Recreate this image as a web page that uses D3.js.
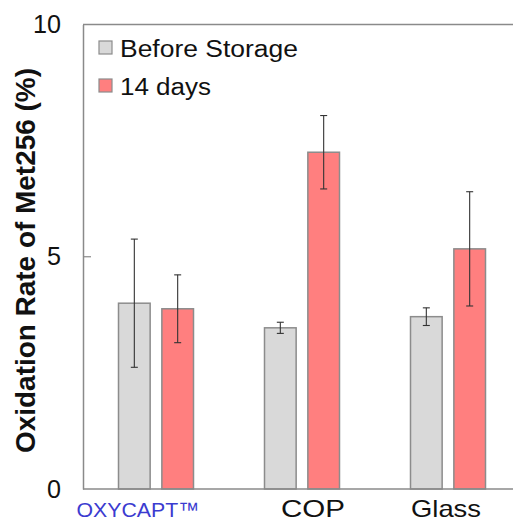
<!DOCTYPE html>
<html>
<head>
<meta charset="utf-8">
<script src="https://cdn.jsdelivr.net/npm/d3@7"></script>
<style>
  html, body { margin: 0; padding: 0; background: #fff; }
  svg { display: block; font-family: "Liberation Sans", Arial, sans-serif; }
</style>
</head>
<body>
<svg id="chart" width="513" height="521"></svg>
<script>
// ---- data ----
const categories = ["OXYCAPT™", "COP", "Glass"];
const seriesNames = ["Before Storage", "14 days"];
const beforeValues = [4.00, 3.47, 3.71];
const beforeErrors = [1.38, 0.12, 0.19];
const daysValues = [3.88, 7.25, 5.17];
const daysErrors = [0.73, 0.79, 1.23];
const yTicks = [0, 5, 10];

(function () {
// ---- layout ----
const W = 513, H = 521;
const pLeft = 83, pTop = 24.5, pBottom = 489, pRight = 521;
const colors = ["#d9d9d9", "#ff7f7f"];
const labelColors = ["#3b3bd0", "#111", "#111"];
const labelSizes = [21, 24, 24];
const labelLens = [123, 64, 70];
const labelNudge = [-18, 11, -2];
const legendLens = [178, 91];

const svg = d3.select("#chart");

const x = d3.scaleBand().domain(categories).range([pLeft, pRight]).paddingInner(0).paddingOuter(0);
const x1 = d3.scaleBand().domain(seriesNames).range([0, 75]).paddingInner(0.27);
const y = d3.scaleLinear().domain([0, 10]).range([pBottom, pTop]);

const rows = categories.map((c, i) => ({
  cat: c,
  vals: [
    { s: seriesNames[0], v: beforeValues[i], e: beforeErrors[i], col: colors[0] },
    { s: seriesNames[1], v: daysValues[i], e: daysErrors[i], col: colors[1] }
  ]
}));

// frame: top line
svg.append("line").attr("x1", pLeft).attr("x2", W).attr("y1", pTop).attr("y2", pTop)
  .attr("stroke", "#8a8a8a").attr("stroke-width", 1.5);

// y axis
const yAxis = d3.axisLeft(y).tickValues(yTicks).tickSize(0).tickPadding(22);
const gy = svg.append("g").attr("transform", `translate(${pLeft},0)`).call(yAxis);
gy.select(".domain").attr("stroke", "#8a8a8a").attr("stroke-width", 1.5);
gy.selectAll(".tick text").attr("font-size", 25).attr("fill", "#111")
  .attr("font-family", "'Liberation Sans', Arial, sans-serif")
  .attr("textLength", d => String(d).length * 14)
  .attr("lengthAdjust", "spacingAndGlyphs");
// inward tick marks
svg.selectAll(".ytick").data(yTicks.filter(t => t > 0 && t < 10)).enter().append("line")
  .attr("x1", pLeft).attr("x2", pLeft + 8).attr("y1", d => y(d)).attr("y2", d => y(d))
  .attr("stroke", "#8a8a8a").attr("stroke-width", 1.2);

// bars
const groups = svg.selectAll(".grp").data(rows).enter().append("g")
  .attr("transform", d => `translate(${x(d.cat) + (x.bandwidth() - 75) / 2},0)`);

groups.selectAll("rect").data(d => d.vals).enter().append("rect")
  .attr("x", d => x1(d.s))
  .attr("width", x1.bandwidth())
  .attr("y", d => y(d.v))
  .attr("height", d => y(0) - y(d.v))
  .attr("fill", d => d.col)
  .attr("stroke", "#8c8c8c")
  .attr("stroke-width", 1.5);

// error bars
const eb = groups.selectAll(".eb").data(d => d.vals).enter().append("g");
eb.append("line")
  .attr("x1", d => x1(d.s) + x1.bandwidth() / 2).attr("x2", d => x1(d.s) + x1.bandwidth() / 2)
  .attr("y1", d => y(d.v + d.e)).attr("y2", d => y(d.v - d.e))
  .attr("stroke", "#333").attr("stroke-width", 1.1);
[1, -1].forEach(sgn => {
  eb.append("line")
    .attr("x1", d => x1(d.s) + x1.bandwidth() / 2 - 3.5).attr("x2", d => x1(d.s) + x1.bandwidth() / 2 + 3.5)
    .attr("y1", d => y(d.v + sgn * d.e)).attr("y2", d => y(d.v + sgn * d.e))
    .attr("stroke", "#333").attr("stroke-width", 1.1);
});

// x axis baseline
svg.append("line").attr("x1", pLeft).attr("x2", W).attr("y1", pBottom).attr("y2", pBottom)
  .attr("stroke", "#8a8a8a").attr("stroke-width", 1.5);

// x labels
svg.selectAll(".xl").data(categories).enter().append("text")
  .attr("x", (d, i) => x(d) + x.bandwidth() / 2 + labelNudge[i])
  .attr("y", 516.5)
  .attr("text-anchor", "middle")
  .attr("font-size", (d, i) => labelSizes[i])
  .attr("textLength", (d, i) => labelLens[i])
  .attr("lengthAdjust", "spacingAndGlyphs")
  .attr("fill", (d, i) => labelColors[i])
  .text(d => d);

// y title
svg.append("text")
  .attr("transform", `translate(26,260.5) rotate(-90)`)
  .attr("text-anchor", "middle")
  .attr("dominant-baseline", "central")
  .attr("font-size", 27)
  .attr("font-weight", "bold")
  .attr("textLength", 385)
  .attr("lengthAdjust", "spacingAndGlyphs")
  .attr("fill", "#111")
  .text("Oxidation Rate of Met256 (%)");

// legend
const leg = svg.selectAll(".leg").data(seriesNames).enter().append("g")
  .attr("transform", (d, i) => `translate(99,${41 + i * 38})`);
leg.append("rect").attr("width", 13).attr("height", 13)
  .attr("fill", (d, i) => colors[i]).attr("stroke", "#8c8c8c").attr("stroke-width", 1.2);
leg.append("text").attr("x", 21).attr("y", 15.5)
  .attr("font-size", 23)
  .attr("textLength", (d, i) => legendLens[i])
  .attr("lengthAdjust", "spacingAndGlyphs")
  .attr("fill", "#111").text(d => d);
})();
</script>
</body>
</html>
